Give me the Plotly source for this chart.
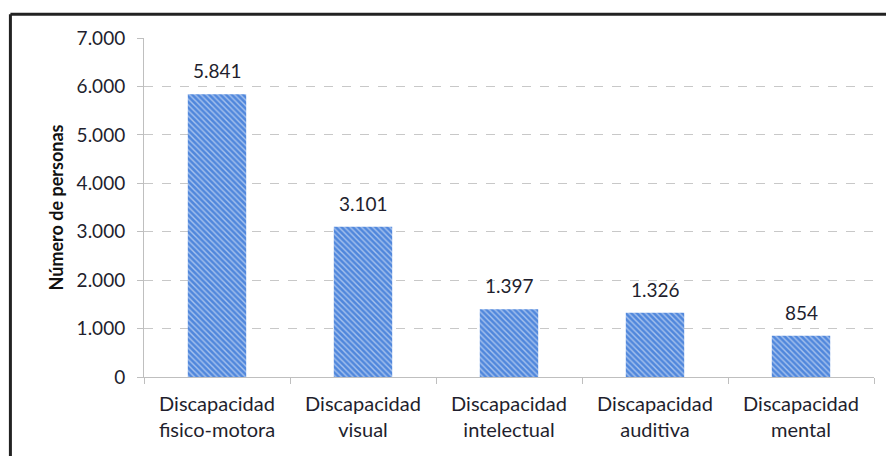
import plotly.graph_objects as go

categories = ["Discapacidad<br>fisico-motora", "Discapacidad<br>visual", "Discapacidad<br>intelectual",
              "Discapacidad<br>auditiva", "Discapacidad<br>mental"]
values = [5841, 3101, 1397, 1326, 854]
y_ticks = [0, 1000, 2000, 3000, 4000, 5000, 6000, 7000]

font_family = "Lato, Open Sans, sans-serif"
text_color = "#1f1f2e"

fig = go.Figure(go.Bar(
    x=categories, y=values,
    width=0.4,
    marker=dict(color="#5087dc", line=dict(width=0),
                pattern=dict(shape="\\", fgcolor="white", size=4, solidity=0.35)),
))

for c, v in zip(categories, values):
    fig.add_annotation(x=c, y=v, text=f"{v:,}".replace(",", "."), showarrow=False,
                       yanchor="bottom", yshift=10,
                       font=dict(size=19, color=text_color, family=font_family))

fig.update_layout(
    width=886, height=456,
    margin=dict(l=144, r=12, t=38, b=79),
    paper_bgcolor="white", plot_bgcolor="white",
    separators=",.",
    showlegend=False,
    font=dict(family=font_family, color=text_color),
    bargap=0.6,
)
fig.update_yaxes(
    range=[0, 7000], tickvals=y_ticks, tickformat=",d",
    tickfont=dict(size=19, color=text_color),
    showgrid=True, gridcolor="#c8c8c8", griddash="dash", gridwidth=1,
    showline=True, linecolor="#bfbfbf", linewidth=1,
    ticks="outside", ticklen=6, tickcolor="#bfbfbf", ticklabelstandoff=8,
    zeroline=False,
    title=dict(text="<b>Número de personas</b>", font=dict(size=18, color="#111"), standoff=8),
)
fig.update_xaxes(
    tickfont=dict(size=20, color=text_color),
    showline=True, linecolor="#bfbfbf", linewidth=1,
    ticks="outside", ticklen=6, tickcolor="#bfbfbf", tickson="boundaries",
    ticklabelstandoff=9,
    showgrid=False,
)

# outer frame (top and left edges visible in the reference crop)
fig.add_shape(type="line", xref="paper", yref="paper", x0=-0.183, x1=1.02, y0=1.07, y1=1.07,
              line=dict(color="#222", width=3))
fig.add_shape(type="line", xref="paper", yref="paper", x0=-0.183, x1=-0.183, y0=1.07, y1=-0.25,
              line=dict(color="#222", width=3))

fig.write_html("out.html")
